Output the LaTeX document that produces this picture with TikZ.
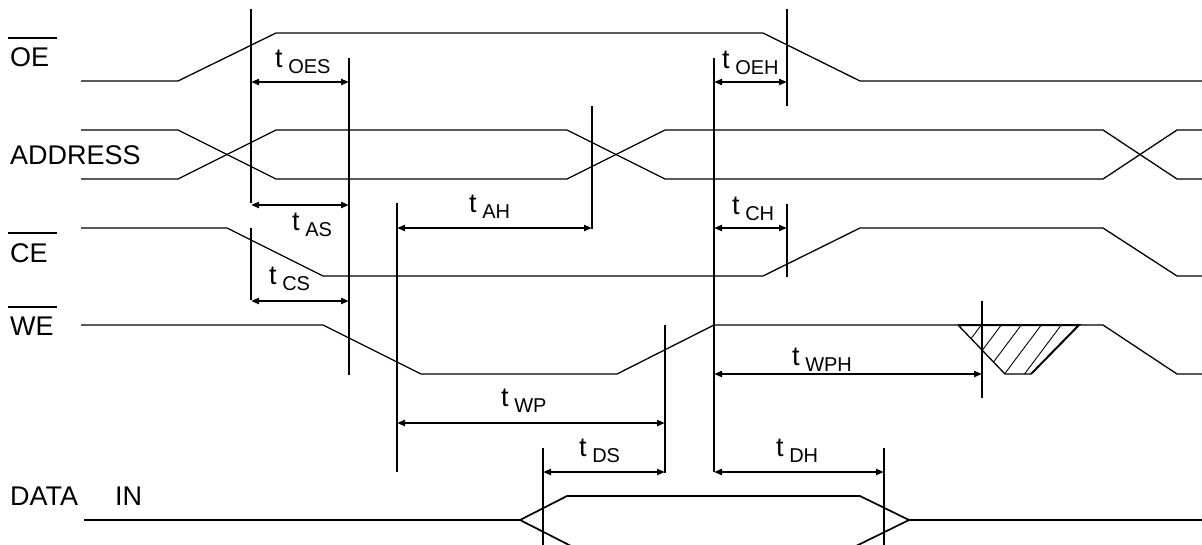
\documentclass[tikz,border=0pt]{standalone}
\usepackage{fontspec}
\setmainfont{Liberation Sans}
\usetikzlibrary{arrows.meta,calc}
\newcommand{\tsub}[1]{t{\fontsize{20}{20}\selectfont\ \raisebox{-6pt}{#1}}}
\begin{document}
\begin{tikzpicture}[x=1pt,y=-1pt,
  sig/.style={line width=1.3pt, line join=miter},
  vline/.style={line width=2.2pt},
  dim/.style={line width=2pt, {Triangle[length=8pt,width=6pt]}-{Triangle[length=8pt,width=6pt]}},
  lbl/.style={font=\fontsize{27}{27}\selectfont, inner sep=0pt, anchor=base west},
  ovl/.style={line width=1.5pt}]
\useasboundingbox (0,0) rectangle (1202,544);

% signal labels
\node[lbl] (oe) at (10,66) {OE};
\draw[ovl] (8,38) -- (57,38);
\node[lbl] (addr) at (10,164) {ADDRESS};
\node[lbl] (ce) at (10,262) {CE};
\draw[ovl] (8,233) -- (57,233);
\node[lbl] (we) at (10,335) {WE};
\draw[ovl] (8,307) -- (57,307);
\node[lbl] (din) at (10,505) {DATA\hspace{37pt}IN};

% waveforms
\draw[sig] (81,81) -- (178,81) -- (276,33) -- (763,33) -- (860,81) -- (1202,81);
\draw[sig] (81,130) -- (178,130) -- (276,179) -- (567,179) -- (665,130) -- (1103,130) -- (1177,179) -- (1202,179);
\draw[sig] (81,179) -- (178,179) -- (276,130) -- (567,130) -- (665,179) -- (1103,179) -- (1177,130) -- (1202,130);
\draw[sig] (81,228) -- (227,228) -- (323,276) -- (763,276) -- (860,228) -- (1103,228) -- (1177,276) -- (1202,276);
\draw[sig] (81,325) -- (323,325) -- (421,374) -- (617,374) -- (714,325) -- (1103,325) -- (1177,374) -- (1202,374);
\draw[sig, line width=1.7pt] (84,520) -- (520,520) -- (567,496) -- (860,496) -- (909,520) -- (1202,520);
\draw[sig, line width=1.7pt] (520,520) -- (573,547) -- (854,547) -- (909,520);

% hatched region on WE
\begin{scope}
  \clip (958,325) -- (1079,325) -- (1031,374) -- (1005,374) -- cycle;
  \foreach \i in {-2,...,7} {
    \draw[line width=0.9pt] (940+\i*20,380) -- (985+\i*20,320);
  }
\end{scope}
\draw[sig] (958,325) -- (1005,374) -- (1031,374);
\draw[line width=2pt] (958,325) -- (1079,325) -- (1031,374);

% timing markers
\coordinate (mA) at (251,0);
\coordinate (mB) at (349,0);
\coordinate (mC) at (397,0);
\coordinate (mD) at (592,0);
\coordinate (mE) at (714,0);
\coordinate (mF) at (787,0);
\coordinate (mG) at (665,0);
\coordinate (mH) at (982,0);
\coordinate (mI) at (543,0);
\coordinate (mJ) at (884,0);

\draw[vline] (mA |- 0,9) -- (mA |- 0,203);
\draw[vline] (mA |- 0,228) -- (mA |- 0,300);
\draw[vline] (mB |- 0,58) -- (mB |- 0,375);
\draw[vline] (mC |- 0,203) -- (mC |- 0,472);
\draw[vline] (mD |- 0,106) -- (mD |- 0,229);
\draw[vline] (mE |- 0,58) -- (mE |- 0,472);
\draw[vline] (mF |- 0,9) -- (mF |- 0,106);
\draw[vline] (mF |- 0,204) -- (mF |- 0,277);
\draw[vline] (mG |- 0,325) -- (mG |- 0,473);
\draw[vline] (mH |- 0,301) -- (mH |- 0,398);
\draw[vline] (mI |- 0,448) -- (mI |- 0,546);
\draw[vline] (mJ |- 0,448) -- (mJ |- 0,546);

% dimension arrows
\draw[dim] (mA |- 0,82) -- (mB |- 0,82);
\draw[dim] (mA |- 0,205) -- (mB |- 0,205);
\draw[dim] (mA |- 0,301) -- (mB |- 0,301);
\draw[dim] (mC |- 0,228) -- (mD |- 0,228);
\draw[dim] (mE |- 0,82) -- (mF |- 0,82);
\draw[dim] (mE |- 0,228) -- (mF |- 0,228);
\draw[dim] (mE |- 0,374) -- (mH |- 0,374);
\draw[dim] (mC |- 0,423) -- (mG |- 0,423);
\draw[dim] (mI |- 0,472) -- (mG |- 0,472);
\draw[dim] (mE |- 0,472) -- (mJ |- 0,472);

% timing labels
\node[lbl] (toes) at (275,67) {\tsub{OES}};
\node[lbl] (tas)  at (292,230) {\tsub{AS}};
\node[lbl] (tcs)  at (269,284) {\tsub{CS}};
\node[lbl] (tah)  at (469,212) {\tsub{AH}};
\node[lbl] (toeh) at (722,68) {\tsub{OEH}};
\node[lbl] (tch)  at (732,214) {\tsub{CH}};
\node[lbl] (twph) at (792,365) {\tsub{WPH}};
\node[lbl] (twp)  at (501,406) {\tsub{WP}};
\node[lbl] (tds)  at (579,456) {\tsub{DS}};
\node[lbl] (tdh)  at (776,456) {\tsub{DH}};
\end{tikzpicture}
\end{document}
